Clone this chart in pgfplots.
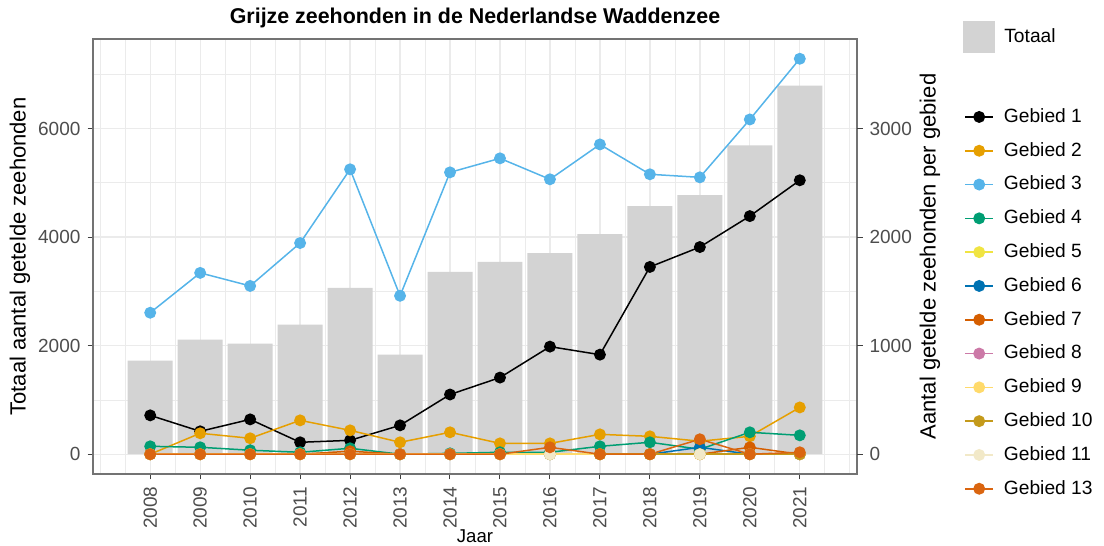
\documentclass[border=0pt]{standalone}
\usepackage{fontspec}
\setmainfont{Liberation Sans}
\usepackage{pgfplots}
\pgfplotsset{compat=1.18}
\definecolor{gA}{HTML}{000000}
\definecolor{gB}{HTML}{E69F00}
\definecolor{gC}{HTML}{56B4E9}
\definecolor{gD}{HTML}{009E73}
\definecolor{gE}{HTML}{F0E442}
\definecolor{gF}{HTML}{0072B2}
\definecolor{gG}{HTML}{D55E00}
\definecolor{gH}{HTML}{CC79A7}
\definecolor{gI}{HTML}{FFDA6B}
\definecolor{gJ}{HTML}{C49A1B}
\definecolor{gK}{HTML}{F2E9C8}
\definecolor{gM}{HTML}{DA6510}
\definecolor{barc}{HTML}{D3D3D3}
\definecolor{gridc}{HTML}{EBEBEB}
\definecolor{tickc}{HTML}{4D4D4D}
\begin{document}
\begin{tikzpicture}
\useasboundingbox (-46.5pt,-36pt) rectangle (505.5pt,237pt);
\pgfplotsset{
  common/.style={
    width=382pt, height=217.5pt, scale only axis,
    xmin=2006.855, xmax=2022.145,
    tick align=outside, major tick length=2.75pt, minor tick length=0pt,
    every tick/.style={color=black!75, line width=0.5pt},
    tick label style={font=\fontsize{9.5}{11}\selectfont, color=tickc},
    /pgf/number format/assume math mode=true,
    /pgf/number format/1000 sep={},
    label style={font=\fontsize{11}{13}\selectfont},
  },
  lineplot/.style={line width=0.75pt, mark=*, mark size=2.6pt, mark options={solid}},
}
\begin{axis}[common,
  ymin=-364, ymax=7648,
  xtick={2008,...,2021},
  minor xtick={2007,2007.5,...,2022},
  ytick={0,2000,4000,6000},
  minor ytick={1000,3000,5000,7000},
  xtick pos=bottom, ytick pos=left,
  grid=both,
  major grid style={color=gridc, line width=0.6pt},
  minor grid style={color=gridc, line width=0.35pt},
  axis line style={color=black!55, line width=0.6pt},
  xticklabel style={rotate=90, anchor=east},
  xlabel={Jaar},
  xlabel style={at={(axis description cs:0.5,-0.142)}, anchor=center, font=\fontsize{9.3}{11}\selectfont},
  ylabel={Totaal aantal getelde zeehonden},
  ylabel style={at={(axis description cs:-0.0955,0.5)}, anchor=center},
  title={Grijze zeehonden in de Nederlandse Waddenzee},
  every axis title/.style={at={(axis description cs:0.5,1.048)}, anchor=center, font=\fontsize{10.7}{12}\selectfont\bfseries},
  legend style={at={(axis description cs:1.1387,1.0414)}, anchor=north west, draw=none, fill=none,
    inner sep=0pt, column sep=2.5pt, font=\fontsize{9.6}{11}\selectfont},
]
\addplot[ybar, bar width=0.9, bar shift=0pt, fill=barc, draw=none,
  legend image code/.code={\fill[barc] (0pt,-8pt) rectangle (16pt,8pt);}]
  coordinates {(2008,1725) (2009,2110) (2010,2037) (2011,2385) (2012,3064) (2013,1835) (2014,3358)
   (2015,3541) (2016,3706) (2017,4055) (2018,4569) (2019,4771) (2020,5688) (2021,6789)};
\addlegendentry{Totaal}
\end{axis}
\begin{axis}[common,
  ymin=-182, ymax=3824,
  axis x line=none,
  axis y line*=right,
  axis line style={draw=none},
  ytick={0,1000,2000,3000},
  ylabel={Aantal getelde zeehonden per gebied},
  ylabel style={at={(axis description cs:1.0955,0.5)}, anchor=center},
  unbounded coords=jump,
  legend style={at={(axis description cs:1.1401,0.847)}, anchor=north west, draw=none, fill=none,
    inner sep=0pt, row sep=5.9pt, column sep=4pt,
    nodes={inner sep=1pt, text height=7.2pt, text depth=1.8pt},
    font=\fontsize{9.6}{11}\selectfont},
  legend cell align=left,
  legend image code/.code={\draw[mark repeat=2, mark phase=2, #1] plot coordinates {(0pt,0pt) (7pt,0pt) (14pt,0pt)};},
]
\addplot[lineplot, color=gA] coordinates {(2008,358) (2009,211) (2010,321) (2011,110) (2012,128) (2013,266) (2014,550)
  (2015,706) (2016,991) (2017,917) (2018,1725) (2019,1908) (2020,2193) (2021,2523)};
\addlegendentry{Gebied 1}
\addplot[lineplot, color=gB] coordinates {(2008,0) (2009,193) (2010,147) (2011,312) (2012,220) (2013,110) (2014,202)
  (2015,100) (2016,100) (2017,183) (2018,165) (2019,120) (2020,165) (2021,431)};
\addlegendentry{Gebied 2}
\addplot[lineplot, color=gC] coordinates {(2008,1303) (2009,1670) (2010,1550) (2011,1945) (2012,2624) (2013,1459) (2014,2596)
  (2015,2725) (2016,2532) (2017,2853) (2018,2578) (2019,2550) (2020,3083) (2021,3642)};
\addlegendentry{Gebied 3}
\addplot[lineplot, color=gD] coordinates {(2008,73) (2009,64) (2010,37) (2011,18) (2012,55) (2013,0) (2014,8)
  (2015,18) (2016,18) (2017,73) (2018,110) (2019,46) (2020,202) (2021,174)};
\addlegendentry{Gebied 4}
\addplot[lineplot, color=gE] coordinates {(2008,0) (2009,0) (2010,0) (2011,0) (2012,0) (2013,0) (2014,0)
  (2015,0) (2016,0) (2017,0) (2018,0) (2019,0) (2020,0) (2021,0)};
\addlegendentry{Gebied 5}
\addplot[lineplot, color=gF] coordinates {(2008,0) (2009,0) (2010,0) (2011,0) (2012,0) (2013,0) (2014,0)
  (2015,0) (2016,0) (2017,0) (2018,0) (2019,64) (2020,0) (2021,0)};
\addlegendentry{Gebied 6}
\addplot[lineplot, color=gG] coordinates {(2008,0) (2009,0) (2010,0) (2011,0) (2012,28) (2013,0) (2014,0)
  (2015,0) (2016,0) (2017,0) (2018,0) (2019,0) (2020,64) (2021,0)};
\addlegendentry{Gebied 7}
\addplot[lineplot, color=gH] coordinates {(2020,0) (2021,0)};
\addlegendentry{Gebied 8}
\addplot[lineplot, color=gI] coordinates {(2008,0) (2009,0) (2010,0) (2011,0) (2012,0) (2013,0) (2014,0)
  (2015,0) (2016,0) (2017,0) (2018,0) (2019,0) (2020,0) (2021,0)};
\addlegendentry{Gebied 9}
\addplot[lineplot, color=gJ] coordinates {(2017,0) (2018,0) (2019,0) (2020,0) (2021,0)};
\addlegendentry{Gebied 10}
\addplot[lineplot, color=gK] coordinates {(2016,0) (2017,nan) (2018,nan) (2019,0)};
\addlegendentry{Gebied 11}
\addplot[lineplot, color=gM] coordinates {(2008,0) (2009,0) (2010,0) (2011,0) (2012,0) (2013,0) (2014,0)
  (2015,0) (2016,64) (2017,0) (2018,0) (2019,138) (2020,0) (2021,18)};
\addlegendentry{Gebied 13}
\end{axis}
\end{tikzpicture}
\end{document}
